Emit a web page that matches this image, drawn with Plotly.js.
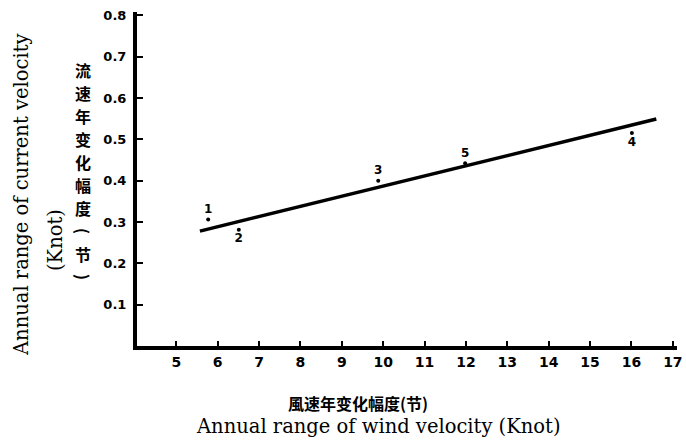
<!DOCTYPE html>
<html>
<head>
<meta charset="utf-8">
<script src="https://cdn.plot.ly/plotly-3.0.1.min.js"></script>
<style>html,body{margin:0;padding:0;background:#fff;}#chart{width:686px;height:440px;}</style>
</head>
<body>
<div id="chart"></div>
<script>
// Data
const pointLabels = ['1', '2', '3', '5', '4'];
const windRange = [5.77, 6.51, 9.88, 11.98, 16.01];
const currentRange = [0.306, 0.281, 0.400, 0.442, 0.515];
const labelPositions = ['top center', 'bottom center', 'top center', 'top center', 'bottom center'];
const fitX = [5.57, 16.6];
const fitY = [0.278, 0.549];
const xTicks = [5, 6, 7, 8, 9, 10, 11, 12, 13, 14, 15, 16, 17];
const yTicks = [0.1, 0.2, 0.3, 0.4, 0.5, 0.6, 0.7, 0.8];

const yTitleZh = ['流', '速', '年', '变', '化', '幅', '度', '(', '节', ')'];
const yTitleEn = 'Annual range of current velocity';
const yTitleUnit = '(Knot)';
const xTitleZh = '風速年变化幅度(节)';
const xTitleEn = 'Annual range of wind velocity (Knot)';

const L = 137, T = 12, W = 540, H = 334;
const px = v => (v - L) / W;
const py = v => (T + H - v) / H;

const handFont = {family: 'DejaVu Sans, sans-serif', size: 13, color: '#000', weight: 'bold'};
const serif = {family: '"DejaVu Serif", serif', size: 19.5, color: '#000'};
const cjk = {family: '"Noto Sans CJK SC", sans-serif', size: 16, color: '#000', weight: 'bold'};

const traces = [
  {
    x: fitX, y: fitY, mode: 'lines', type: 'scatter',
    line: {color: '#000', width: 3.5}, hoverinfo: 'skip'
  },
  {
    x: windRange, y: currentRange, mode: 'markers+text', type: 'scatter',
    marker: {color: '#000', size: 4},
    text: pointLabels, textposition: labelPositions,
    textfont: {family: 'DejaVu Sans, sans-serif', size: 12, color: '#000', weight: 'bold'}
  }
];

const annotations = [
  {xref: 'paper', yref: 'paper', x: px(22), y: py(195), xanchor: 'center', yanchor: 'middle',
   text: yTitleEn, textangle: -90, showarrow: false, font: serif},
  {xref: 'paper', yref: 'paper', x: px(55), y: py(240), xanchor: 'center', yanchor: 'middle',
   text: yTitleUnit, textangle: -90, showarrow: false, font: serif},
  {xref: 'paper', yref: 'paper', x: px(358), y: py(403), xanchor: 'center', yanchor: 'middle',
   text: xTitleZh, showarrow: false, font: cjk},
  {xref: 'paper', yref: 'paper', x: px(378), y: py(426), xanchor: 'center', yanchor: 'middle',
   text: xTitleEn, showarrow: false, font: serif}
];
yTitleZh.forEach((ch, i) => {
  const isParen = (ch === '(' || ch === ')');
  annotations.push({xref: 'paper', yref: 'paper', x: px(83), y: py(70 + i * 23),
    xanchor: 'center', yanchor: 'middle', text: ch, showarrow: false,
    textangle: isParen ? 90 : 0, font: cjk});
});

const layout = {
  width: 686, height: 440,
  margin: {l: L, r: 686 - L - W, t: T, b: 440 - T - H},
  paper_bgcolor: '#fff', plot_bgcolor: '#fff',
  showlegend: false,
  xaxis: {
    range: [4.05, 17.1], tickvals: xTicks, ticktext: xTicks.map(String),
    showgrid: false, zeroline: false, showline: true, linecolor: '#000', linewidth: 4,
    ticks: 'inside', ticklen: 5, tickwidth: 2, tickcolor: '#000',
    tickfont: {family: 'DejaVu Sans, sans-serif', size: 14, color: '#000', weight: 'bold'},
    fixedrange: true
  },
  yaxis: {
    range: [0, 0.808], tickvals: yTicks, ticktext: yTicks.map(v => v.toFixed(1)),
    showgrid: false, zeroline: false, showline: true, linecolor: '#000', linewidth: 4,
    ticks: 'inside', ticklen: 6, tickwidth: 2, tickcolor: '#000',
    tickfont: handFont, ticklabelstandoff: 4,
    fixedrange: true
  },
  annotations: annotations
};

Plotly.newPlot('chart', traces, layout, {staticPlot: true, displayModeBar: false});
</script>
</body>
</html>
